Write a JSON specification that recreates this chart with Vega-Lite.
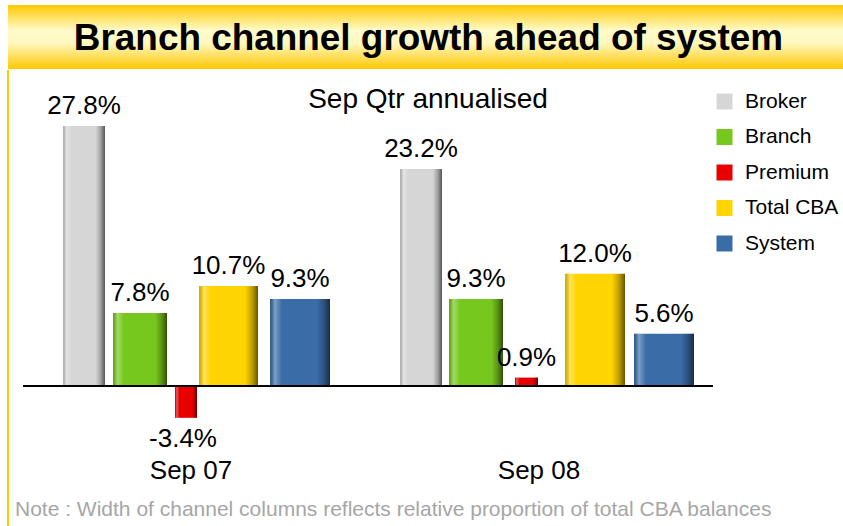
{
  "$schema": "https://vega.github.io/schema/vega-lite/v6.json",
  "padding": {"left": 7, "top": 5, "right": 0, "bottom": 0},
  "autosize": {"type": "pad"},
  "spacing": 0,
  "background": "white",
  "config": {
    "font": "Liberation Sans",
    "view": {"stroke": null},
    "concat": {"spacing": 0},
    "locale": {"number": {"decimal": ".", "thousands": ",", "grouping": [3], "currency": ["", ""], "minus": "-", "percent": "%"}}
  },
  "datasets": {
    "bars": [
      {"period": "Sep 07", "channel": "Broker", "growth": 0.278, "start": 55, "end": 97},
      {"period": "Sep 07", "channel": "Branch", "growth": 0.078, "start": 105, "end": 159},
      {"period": "Sep 07", "channel": "Premium", "growth": -0.034, "start": 167, "end": 189},
      {"period": "Sep 07", "channel": "Total CBA", "growth": 0.107, "start": 191, "end": 250},
      {"period": "Sep 07", "channel": "System", "growth": 0.093, "start": 262, "end": 322},
      {"period": "Sep 08", "channel": "Broker", "growth": 0.232, "start": 392, "end": 434},
      {"period": "Sep 08", "channel": "Branch", "growth": 0.093, "start": 441, "end": 495},
      {"period": "Sep 08", "channel": "Premium", "growth": 0.009, "start": 507, "end": 530},
      {"period": "Sep 08", "channel": "Total CBA", "growth": 0.12, "start": 557, "end": 617},
      {"period": "Sep 08", "channel": "System", "growth": 0.056, "start": 626, "end": 686}
    ],
    "groups": [
      {"period": "Sep 07", "center": 183},
      {"period": "Sep 08", "center": 531}
    ]
  },
  "vconcat": [
    {
      "width": 836,
      "height": 64,
      "data": {"values": [{"title": "Branch channel growth ahead of system"}]},
      "layer": [
        {
          "mark": {
            "type": "rect",
            "color": {
              "gradient": "linear", "x1": 0, "y1": 0, "x2": 0, "y2": 1,
              "stops": [
                {"offset": 0, "color": "#FFC800"},
                {"offset": 0.4, "color": "#FFFBCC"},
                {"offset": 0.6, "color": "#FFF7BE"},
                {"offset": 1, "color": "#FFC800"}
              ]
            }
          },
          "encoding": {
            "x": {"value": 0}, "x2": {"value": "width"},
            "y": {"value": 0}, "y2": {"value": "height"}
          }
        },
        {
          "mark": {"type": "text", "fontSize": 36.9, "fontWeight": "bold", "baseline": "middle", "align": "center", "dx": 2.5, "dy": 2, "color": "black"},
          "encoding": {"text": {"field": "title"}}
        }
      ]
    },
    {
      "width": 836,
      "height": 457,
      "layer": [
        {
          "data": {"values": [{"edge": "left"}]},
          "mark": {"type": "rule", "color": "#FFCC00", "strokeWidth": 2},
          "encoding": {
            "x": {"datum": 0, "type": "quantitative", "scale": {"domain": [0, 836], "nice": false, "zero": false}, "axis": null}
          }
        },
        {
          "data": {"name": "bars"},
          "mark": {"type": "bar"},
          "encoding": {
            "x": {"field": "start", "type": "quantitative", "scale": {"domain": [0, 836], "nice": false, "zero": false}, "axis": null},
            "x2": {"field": "end"},
            "y": {"field": "growth", "type": "quantitative", "scale": {"domain": [-0.1508, 0.338], "nice": false, "zero": false}, "axis": null},
            "y2": {"datum": 0},
            "color": {
              "field": "channel", "type": "nominal",
              "scale": {"domain": ["Broker", "Branch", "Premium", "Total CBA", "System"], "range": ["#D6D6D6", "#76C71E", "#E80000", "#FFD400", "#3A6CA8"]},
              "legend": {"orient": "none", "legendX": 706, "legendY": 86, "title": null, "symbolType": "square", "symbolSize": 256, "labelFontSize": 21, "labelOffset": 10, "rowPadding": 13.5, "padding": 0, "symbolStrokeWidth": 0, "labelColor": "black", "symbolOpacity": 1, "labelLimit": 200}
            }
          }
        },
        {
          "data": {"name": "bars"},
          "mark": {
            "type": "bar",
            "color": {
              "gradient": "linear", "x1": 0, "y1": 0, "x2": 1, "y2": 0,
              "stops": [
                {"offset": 0, "color": "rgba(0,0,0,0.18)"},
                {"offset": 0.08, "color": "rgba(255,255,255,0.35)"},
                {"offset": 0.2, "color": "rgba(255,255,255,0)"},
                {"offset": 0.78, "color": "rgba(0,0,0,0)"},
                {"offset": 0.9, "color": "rgba(0,0,0,0.25)"},
                {"offset": 1, "color": "rgba(0,0,0,0.6)"}
              ]
            }
          },
          "encoding": {
            "x": {"field": "start", "type": "quantitative", "scale": {"domain": [0, 836], "nice": false, "zero": false}, "axis": null},
            "x2": {"field": "end"},
            "y": {"field": "growth", "type": "quantitative", "scale": {"domain": [-0.1508, 0.338], "nice": false, "zero": false}, "axis": null},
            "y2": {"datum": 0}
          }
        },
        {
          "data": {"values": [{"line": "zero"}]},
          "mark": {"type": "rule", "color": "black", "strokeWidth": 2},
          "encoding": {
            "x": {"datum": 15, "type": "quantitative", "scale": {"domain": [0, 836], "nice": false, "zero": false}, "axis": null},
            "x2": {"datum": 705},
            "y": {"datum": 0, "type": "quantitative", "scale": {"domain": [-0.1508, 0.338], "nice": false, "zero": false}, "axis": null}
          }
        },
        {
          "data": {"name": "bars"},
          "transform": [
            {"fold": ["start", "end"], "as": ["edge", "xpos"]},
            {"aggregate": [{"op": "mean", "field": "xpos", "as": "mid"}], "groupby": ["period", "channel", "growth"]},
            {"filter": "datum.growth >= 0"}
          ],
          "mark": {"type": "text", "fontSize": 26, "baseline": "alphabetic", "align": "center", "dy": -12, "color": "black"},
          "encoding": {
            "x": {"field": "mid", "type": "quantitative", "scale": {"domain": [0, 836], "nice": false, "zero": false}, "axis": null},
            "y": {"field": "growth", "type": "quantitative", "scale": {"domain": [-0.1508, 0.338], "nice": false, "zero": false}, "axis": null},
            "text": {"field": "growth", "type": "quantitative", "format": ".1%"}
          }
        },
        {
          "data": {"name": "bars"},
          "transform": [
            {"fold": ["start", "end"], "as": ["edge", "xpos"]},
            {"aggregate": [{"op": "mean", "field": "xpos", "as": "mid"}], "groupby": ["period", "channel", "growth"]},
            {"filter": "datum.growth < 0"}
          ],
          "mark": {"type": "text", "fontSize": 26, "baseline": "top", "align": "center", "dy": 8, "dx": -3, "color": "black"},
          "encoding": {
            "x": {"field": "mid", "type": "quantitative", "scale": {"domain": [0, 836], "nice": false, "zero": false}, "axis": null},
            "y": {"field": "growth", "type": "quantitative", "scale": {"domain": [-0.1508, 0.338], "nice": false, "zero": false}, "axis": null},
            "text": {"field": "growth", "type": "quantitative", "format": ".1%"}
          }
        },
        {
          "data": {"name": "groups"},
          "mark": {"type": "text", "fontSize": 26, "baseline": "alphabetic", "align": "center", "color": "black"},
          "encoding": {
            "x": {"field": "center", "type": "quantitative", "scale": {"domain": [0, 836], "nice": false, "zero": false}, "axis": null},
            "y": {"datum": -0.0995, "type": "quantitative", "scale": {"domain": [-0.1508, 0.338], "nice": false, "zero": false}, "axis": null},
            "text": {"field": "period"}
          }
        },
        {
          "data": {"values": [{"subtitle": "Sep Qtr annualised"}]},
          "mark": {"type": "text", "fontSize": 28, "baseline": "alphabetic", "align": "center", "color": "black"},
          "encoding": {
            "x": {"datum": 420, "type": "quantitative", "scale": {"domain": [0, 836], "nice": false, "zero": false}, "axis": null},
            "y": {"datum": 0.2974, "type": "quantitative", "scale": {"domain": [-0.1508, 0.338], "nice": false, "zero": false}, "axis": null},
            "text": {"field": "subtitle"}
          }
        },
        {
          "data": {"values": [{"note": "Note : Width of channel columns reflects relative proportion of total CBA balances"}]},
          "mark": {"type": "text", "fontSize": 21, "baseline": "alphabetic", "align": "left", "color": "#A6A6A6"},
          "encoding": {
            "x": {"datum": 7, "type": "quantitative", "scale": {"domain": [0, 836], "nice": false, "zero": false}, "axis": null},
            "y": {"datum": -0.139, "type": "quantitative", "scale": {"domain": [-0.1508, 0.338], "nice": false, "zero": false}, "axis": null},
            "text": {"field": "note"}
          }
        }
      ]
    }
  ]
}
